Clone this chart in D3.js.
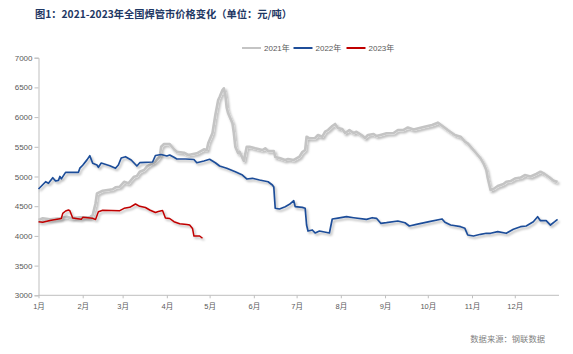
<!DOCTYPE html>
<html><head><meta charset="utf-8">
<script src="https://cdn.jsdelivr.net/npm/d3@7"></script>
<style>body{margin:0;background:#fff}svg{display:block}</style>
</head><body>
<script>
// ---- data ----
const seriesNames = ["2021年", "2022年", "2023年"];
const dates2021 = ["01-01","01-04","01-09","01-16","01-21","01-24","01-30","02-06","02-08","02-10","02-11","02-15","02-22","02-24","02-27","03-02","03-05","03-09","03-11","03-13","03-16","03-18","03-20","03-24","03-27","03-28","03-30","04-03","04-06","04-08","04-13","04-16","04-22","04-27","04-29","04-30","05-03","05-05","05-07","05-08","05-10","05-11","05-12","05-13","05-14","05-17","05-18","05-19","05-20","05-21","05-22","05-25","05-27","05-29","06-02","06-07","06-09","06-11","06-15","06-16","06-19","06-23","06-25","06-29","07-03","07-05","07-07","07-08","07-10","07-14","07-16","07-19","07-21","07-23","07-26","07-28","07-30","08-02","08-04","08-07","08-10","08-12","08-16","08-18","08-20","08-24","08-26","08-30","09-02","09-07","09-10","09-14","09-17","09-21","09-28","10-04","10-08","10-12","10-15","10-20","10-24","10-27","10-29","11-01","11-04","11-07","11-09","11-11","11-12","11-14","11-16","11-19","11-23","11-25","11-28","12-01","12-05","12-08","12-12","12-16","12-19","12-22","12-25","12-28","12-31"];
const values2021 = [4268,4296,4279,4296,4323,4296,4313,4313,4352,4549,4717,4761,4785,4818,4828,4912,4885,4997,5008,5081,5109,5165,5194,5249,5333,5502,5547,5547,5458,5418,5401,5362,5391,5458,5446,5559,5732,6035,6288,6338,6456,6485,6372,6153,6064,5896,5727,5502,5446,5391,5418,5261,5502,5502,5475,5446,5475,5429,5429,5328,5311,5278,5295,5278,5333,5412,5446,5670,5643,5648,5699,5670,5754,5783,5850,5884,5817,5800,5732,5783,5732,5754,5690,5648,5699,5716,5682,5707,5727,5732,5783,5783,5825,5791,5833,5867,5906,5838,5783,5699,5670,5586,5559,5475,5391,5306,5222,5109,4975,4773,4790,4840,4874,4912,4924,4966,4983,5025,5000,5042,5081,5042,4992,4933,4907];
const dates2022 = ["01-01","01-06","01-08","01-11","01-13","01-15","01-16","01-17","01-20","01-29","01-30","02-01","02-04","02-06","02-08","02-11","02-12","02-14","02-20","02-24","02-26","02-28","03-03","03-07","03-11","03-13","03-22","03-24","03-28","04-01","04-03","04-06","04-08","04-14","04-20","04-22","04-27","05-01","05-05","05-08","05-13","05-19","05-24","05-27","05-31","06-05","06-11","06-14","06-15","06-16","06-19","06-23","06-26","06-29","06-30","07-05","07-07","07-08","07-09","07-12","07-14","07-17","07-24","07-26","07-29","08-05","08-10","08-19","08-23","08-26","08-29","09-02","09-10","09-15","09-18","09-23","10-02","10-11","10-13","10-17","10-24","10-27","10-29","11-02","11-07","11-11","11-14","11-19","11-25","11-30","12-05","12-09","12-14","12-17","12-19","12-23","12-26","12-29","12-31"];
const values2022 = [4790,4912,4885,4980,4924,4935,5000,4960,5070,5070,5140,5190,5280,5350,5222,5194,5155,5227,5182,5138,5194,5311,5333,5278,5177,5232,5244,5353,5370,5345,5362,5323,5295,5295,5286,5232,5261,5290,5232,5177,5138,5081,5025,4958,4970,4941,4912,4857,4823,4465,4453,4492,4532,4593,4492,4481,4465,4183,4082,4100,4049,4082,4049,4285,4296,4323,4306,4279,4306,4296,4212,4222,4251,4222,4167,4195,4239,4285,4229,4183,4155,4128,4015,3998,4027,4044,4044,4071,4044,4111,4155,4167,4239,4323,4256,4256,4183,4239,4279];
const dates2023 = ["01-01","01-04","01-09","01-17","01-18","01-20","01-22","01-23","01-25","01-31","02-01","02-08","02-10","02-12","02-15","02-27","03-02","03-06","03-10","03-13","03-17","03-20","03-24","03-26","03-29","03-31","04-03","04-06","04-10","04-15","04-17","04-19","04-20","04-24","04-26"];
const values2023 = [4239,4229,4259,4293,4380,4419,4436,4424,4301,4279,4313,4296,4276,4407,4431,4424,4465,4481,4537,4498,4478,4436,4394,4411,4428,4301,4293,4239,4205,4192,4183,4125,3998,3998,3960];
const yTicks = [3000,3500,4000,4500,5000,5500,6000,6500,7000];
const monthLabels = ["1月","2月","3月","4月","5月","6月","7月","8月","9月","10月","11月","12月"];
const titleText = "图1：2021-2023年全国焊管市价格变化（单位：元/吨）";
const sourceText = "数据来源：钢联数据";

// ---- chart ----
const W = 573, H = 354;
const colors = ["#c4c4c4", "#1f4e99", "#c00000"];
const widths = [2.6, 1.7, 1.5];
const parse = d3.timeParse("%Y-%m-%d");
const toDate = md => parse("2022-" + md);

const svg = d3.select("body").append("svg").attr("width", W).attr("height", H);
const defs = svg.append("defs");
const f = defs.append("filter").attr("id","sh").attr("x","-10%").attr("y","-10%").attr("width","120%").attr("height","130%");
f.append("feDropShadow").attr("dx",1.6).attr("dy",2).attr("stdDeviation",0.9)
  .attr("flood-color","#000").attr("flood-opacity",0.3);

const x = d3.scaleTime().domain([parse("2022-01-01"), parse("2023-01-01")]).range([38.5, 559]);
const y = d3.scaleLinear().domain([3000, 7000]).range([295.3, 57.7]);

// title
svg.append("text").attr("x", 35).attr("y", 18)
  .attr("font-family", "Noto Sans CJK SC").attr("font-weight", "bold")
  .attr("font-size", 10.25).attr("fill", "#1f3864").text(titleText);

// axes
const yAxis = svg.append("g").attr("transform", "translate(38.5,0)")
  .call(d3.axisLeft(y).tickValues(yTicks).tickSize(4).tickPadding(2).tickFormat(d3.format("d")));
const xAxis = svg.append("g").attr("transform", "translate(0,295.3)")
  .call(d3.axisBottom(x).tickValues(d3.range(12).map(i => new Date(2022, i, 1)))
    .tickSize(3).tickPadding(5).tickFormat((d, i) => monthLabels[i]));
[yAxis, xAxis].forEach(g => {
  g.select(".domain").attr("stroke", "#bfbfbf");
  g.selectAll(".tick line").attr("stroke", "#bfbfbf");
  g.selectAll("text").attr("fill", "#595959").attr("font-family", "Liberation Sans, Noto Sans CJK SC");
});
yAxis.selectAll("text").attr("font-size", 8);
xAxis.selectAll("text").attr("font-size", 7.5);
xAxis.select(".domain").attr("d", "M38.5,0H559");

// lines
const line = d3.line().x(d => x(d[0])).y(d => y(d[1]));
const allSeries = [
  d3.zip(dates2021.map(toDate), values2021),
  d3.zip(dates2022.map(toDate), values2022),
  d3.zip(dates2023.map(toDate), values2023)
];
allSeries.forEach((data, i) => {
  svg.append("path").datum(data).attr("d", line)
    .attr("fill", "none").attr("stroke", colors[i]).attr("stroke-width", widths[i])
    .attr("stroke-linejoin", "round").attr("filter", "url(#sh)");
});

// legend
const legX = [242, 293.5, 346.5];
seriesNames.forEach((n, i) => {
  const g = svg.append("g").attr("transform", `translate(${legX[i]},48)`);
  g.append("line").attr("x1", 0).attr("x2", 19).attr("stroke", colors[i]).attr("stroke-width", 2);
  g.append("text").attr("x", 22).attr("y", 3).attr("font-size", 8)
    .attr("font-family", "Liberation Sans, Noto Sans CJK SC").attr("fill", "#595959").text(n);
});

// source
svg.append("text").attr("x", 545).attr("y", 342).attr("text-anchor", "end")
  .attr("font-size", 8.3).attr("font-family", "Noto Sans CJK SC").attr("fill", "#7f7f7f").text(sourceText);
</script>
</body></html>
